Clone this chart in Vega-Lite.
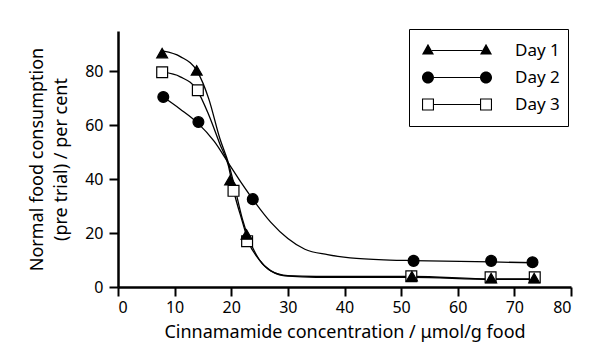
{
  "$schema": "https://vega.github.io/schema/vega-lite/v6.json",
  "width": 453,
  "height": 256,
  "autosize": {"type": "none"},
  "padding": {"left": 118, "top": 31, "right": 24, "bottom": 62},
  "background": "white",
  "datasets": {
    "crv": [
      {"day": "Day 1", "x": 8, "y": 87.5}, {"day": "Day 1", "x": 11, "y": 85.5}, {"day": "Day 1", "x": 14, "y": 80},
      {"day": "Day 1", "x": 16, "y": 70}, {"day": "Day 1", "x": 18, "y": 55}, {"day": "Day 1", "x": 19.5, "y": 46},
      {"day": "Day 1", "x": 20.5, "y": 38}, {"day": "Day 1", "x": 22, "y": 25}, {"day": "Day 1", "x": 23, "y": 18.5},
      {"day": "Day 1", "x": 25, "y": 10}, {"day": "Day 1", "x": 27, "y": 6}, {"day": "Day 1", "x": 30, "y": 4},
      {"day": "Day 1", "x": 35, "y": 3.6}, {"day": "Day 1", "x": 52, "y": 3.6}, {"day": "Day 1", "x": 66, "y": 2.8},
      {"day": "Day 1", "x": 73.5, "y": 2.8},
      {"day": "Day 2", "x": 8, "y": 70.5}, {"day": "Day 2", "x": 11, "y": 66}, {"day": "Day 2", "x": 14, "y": 61},
      {"day": "Day 2", "x": 17, "y": 54}, {"day": "Day 2", "x": 19.5, "y": 46}, {"day": "Day 2", "x": 22, "y": 38},
      {"day": "Day 2", "x": 24, "y": 32}, {"day": "Day 2", "x": 27, "y": 24}, {"day": "Day 2", "x": 30, "y": 18},
      {"day": "Day 2", "x": 33, "y": 14}, {"day": "Day 2", "x": 37, "y": 12}, {"day": "Day 2", "x": 41, "y": 10.8},
      {"day": "Day 2", "x": 48, "y": 10}, {"day": "Day 2", "x": 52, "y": 9.8}, {"day": "Day 2", "x": 66, "y": 9.3},
      {"day": "Day 2", "x": 73.5, "y": 9},
      {"day": "Day 3", "x": 8, "y": 79.7}, {"day": "Day 3", "x": 11, "y": 78}, {"day": "Day 3", "x": 14, "y": 73},
      {"day": "Day 3", "x": 16, "y": 64}, {"day": "Day 3", "x": 18, "y": 53}, {"day": "Day 3", "x": 19.5, "y": 45},
      {"day": "Day 3", "x": 20.4, "y": 36}, {"day": "Day 3", "x": 22, "y": 24}, {"day": "Day 3", "x": 23, "y": 17},
      {"day": "Day 3", "x": 25, "y": 10}, {"day": "Day 3", "x": 27, "y": 6}, {"day": "Day 3", "x": 30, "y": 4.2},
      {"day": "Day 3", "x": 35, "y": 3.9}, {"day": "Day 3", "x": 52, "y": 3.9}, {"day": "Day 3", "x": 66, "y": 3},
      {"day": "Day 3", "x": 73.5, "y": 3}
    ],
    "pts": [
      {"day": "Day 3", "x": 7.8, "y": 79.7}, {"day": "Day 3", "x": 14.1, "y": 73}, {"day": "Day 3", "x": 20.4, "y": 35.7},
      {"day": "Day 3", "x": 22.8, "y": 17}, {"day": "Day 3", "x": 51.8, "y": 4}, {"day": "Day 3", "x": 65.8, "y": 3.6},
      {"day": "Day 3", "x": 73.6, "y": 3.6},
      {"day": "Day 1", "x": 7.8, "y": 86.8}, {"day": "Day 1", "x": 13.9, "y": 80.4}, {"day": "Day 1", "x": 19.8, "y": 39.6},
      {"day": "Day 1", "x": 22.7, "y": 19.5}, {"day": "Day 1", "x": 51.9, "y": 4}, {"day": "Day 1", "x": 65.9, "y": 3.3},
      {"day": "Day 1", "x": 73.5, "y": 3.3},
      {"day": "Day 2", "x": 8, "y": 70.5}, {"day": "Day 2", "x": 14.2, "y": 61.2}, {"day": "Day 2", "x": 23.8, "y": 32.6},
      {"day": "Day 2", "x": 52.2, "y": 9.7}, {"day": "Day 2", "x": 65.9, "y": 9.7}, {"day": "Day 2", "x": 73.2, "y": 9.2}
    ]
  },
  "encoding": {
    "x": {
      "field": "x", "type": "quantitative",
      "scale": {"domain": [0, 80], "nice": false},
      "axis": {"values": [0, 10, 20, 30, 40, 50, 60, 70, 80], "title": "Cinnamamide concentration / μmol/g food", "labelPadding": 3, "titlePadding": 8}
    },
    "y": {
      "field": "y", "type": "quantitative",
      "scale": {"domain": [0, 95], "nice": false},
      "axis": {"values": [0, 20, 40, 60, 80], "title": ["Normal food consumption", "(pre trial) / per cent"], "labelPadding": 6, "titlePadding": 14, "titleLineHeight": 24}
    }
  },
  "layer": [
    {
      "data": {"name": "crv"},
      "mark": {"type": "line", "interpolate": "monotone", "stroke": "black", "strokeWidth": 1.3},
      "encoding": {"detail": {"field": "day"}}
    },
    {
      "data": {"name": "pts"},
      "mark": {"type": "point", "filled": true, "stroke": "black", "strokeWidth": 1.2, "opacity": 1, "size": 118},
      "encoding": {
        "shape": {
          "field": "day", "type": "nominal",
          "scale": {"domain": ["Day 1", "Day 2", "Day 3"], "range": ["triangle-up", "circle", "square"]},
          "legend": null
        },
        "fill": {
          "field": "day", "type": "nominal",
          "scale": {"domain": ["Day 1", "Day 2", "Day 3"], "range": ["black", "black", "white"]},
          "legend": null
        }
      }
    },
    {
      "data": {"name": "pts"},
      "mark": {"type": "point", "filled": true, "color": "black", "opacity": 0, "size": 5184, "strokeWidth": 0},
      "encoding": {
        "shape": {
          "field": "day", "type": "nominal",
          "scale": {
            "domain": ["Day 1", "Day 2", "Day 3"],
            "range": [
              "M-0.973,0.111L-0.639,0.111L-0.806,-0.186Z M0.639,0.111L0.973,0.111L0.806,-0.186Z M-0.7,-0.017L0.7,-0.017L0.7,0.017L-0.7,0.017Z",
              "M-0.639,0A0.167,0.167,0,1,1,-0.973,0A0.167,0.167,0,1,1,-0.639,0Z M0.973,0A0.167,0.167,0,1,1,0.639,0A0.167,0.167,0,1,1,0.973,0Z M-0.639,-0.017L0.639,-0.017L0.639,0.017L-0.639,0.017Z",
              "M-0.973,-0.167L-0.639,-0.167L-0.639,0.167L-0.973,0.167Z M-0.942,-0.136L-0.942,0.136L-0.67,0.136L-0.67,-0.136Z M0.639,-0.167L0.973,-0.167L0.973,0.167L0.639,0.167Z M0.67,-0.136L0.67,0.136L0.942,0.136L0.942,-0.136Z M-0.639,-0.017L0.639,-0.017L0.639,0.017L-0.639,0.017Z"
            ]
          },
          "legend": {
            "title": null,
            "orient": "none",
            "legendX": 291,
            "legendY": -2,
            "strokeColor": "black",
            "fillColor": "white",
            "padding": 8,
            "rowPadding": 0,
            "clipHeight": 27,
            "symbolOffset": 4,
            "labelOffset": 22,
            "labelFont": "Noto Sans",
            "labelFontSize": 17,
            "labelColor": "black",
            "symbolSize": 5184,
            "symbolOpacity": 1,
            "symbolFillColor": "black",
            "symbolStrokeWidth": 0
          }
        }
      }
    }
  ],
  "resolve": {"scale": {"shape": "independent"}, "legend": {"shape": "independent"}},
  "config": {
    "view": {"stroke": null},
    "font": "Noto Sans",
    "axis": {
      "grid": false,
      "domainColor": "black",
      "domainWidth": 2.5,
      "tickColor": "black",
      "tickWidth": 2,
      "tickSize": 9,
      "labelFont": "Noto Sans",
      "labelFontSize": 16,
      "labelColor": "black",
      "titleFont": "Noto Sans",
      "titleFontSize": 18,
      "titleFontWeight": "normal",
      "titleColor": "black"
    }
  }
}
